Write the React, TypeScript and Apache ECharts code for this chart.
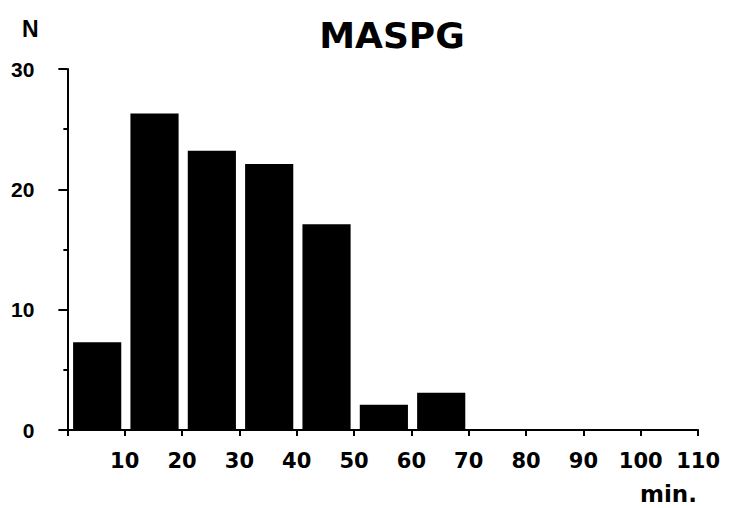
import React, { useEffect, useRef } from "react";
import * as echarts from "echarts";

const binStarts = [0, 10, 20, 30, 40, 50, 60];
const counts = [7.3, 26.3, 23.2, 22.1, 17.1, 2.1, 3.1];
const xTicks = [0, 10, 20, 30, 40, 50, 60, 70, 80, 90, 100, 110];
const yTicks = [0, 10, 20, 30];
const titleText = "MASPG";
const yName = "N";
const xName = "min.";

const ARIAL = "'Liberation Sans', Arial, Helvetica, sans-serif";
const DEJAVU = "'DejaVu Sans', sans-serif";

export default function App() {
  const ref = useRef<HTMLDivElement>(null);
  useEffect(() => {
    if (!ref.current) return;
    const chart = echarts.init(ref.current, undefined, { renderer: "svg" });
    const data = binStarts.map((s, i) => [s + 1.0, s + 9.4, counts[i]]);
    chart.setOption({
      animation: false,
      backgroundColor: "#fff",
      graphic: [
        {
          type: "text",
          x: 384,
          y: 9,
          style: {
            text: titleText,
            font: `bold 36px ${DEJAVU}`,
            fill: "#000",
            textAlign: "center",
            textVerticalAlign: "top",
          },
        },
        {
          type: "text",
          x: 14,
          y: 9,
          style: { text: yName, font: `bold 23px ${ARIAL}`, fill: "#000", textVerticalAlign: "top" },
        },
        {
          type: "text",
          x: 632,
          y: 474,
          style: { text: xName, font: `bold 23px ${DEJAVU}`, fill: "#000", textVerticalAlign: "top" },
        },
      ],
      grid: { left: 54, right: 24, top: 61, bottom: 78, containLabel: false },
      xAxis: {
        type: "value",
        min: xTicks[0],
        max: xTicks[xTicks.length - 1],
        interval: 10,
        splitLine: { show: false },
        axisLine: { show: true, lineStyle: { color: "#000", width: 2 } },
        axisTick: { show: true, length: 6, lineStyle: { color: "#000", width: 2 } },
        axisLabel: {
          margin: 20,
          color: "#000",
          fontFamily: DEJAVU,
          fontWeight: "bold",
          fontSize: 21,
          formatter: (v: number) => (v === 0 ? "" : String(v)),
        },
      },
      yAxis: {
        type: "value",
        min: yTicks[0],
        max: yTicks[yTicks.length - 1],
        interval: 10,
        splitLine: { show: false },
        axisLine: { show: true, lineStyle: { color: "#000", width: 2 } },
        axisTick: { show: true, length: 9, lineStyle: { color: "#000", width: 2 } },
        minorTick: { show: true, splitNumber: 2, length: 4, lineStyle: { color: "#000", width: 2 } },
        axisLabel: {
          margin: 33,
          color: "#000",
          fontFamily: ARIAL,
          fontWeight: "bold",
          fontSize: 21,
        },
      },
      series: [
        {
          type: "custom",
          data,
          encode: { x: [0, 1], y: 2 },
          renderItem: (params: any, api: any) => {
            const p0 = api.coord([api.value(0), api.value(2)]);
            const p1 = api.coord([api.value(1), 0]);
            return {
              type: "rect",
              shape: { x: p0[0], y: p0[1], width: p1[0] - p0[0], height: p1[1] - p0[1] },
              style: { fill: "#000" },
            };
          },
        },
      ],
    });
    return () => chart.dispose();
  }, []);
  return <div ref={ref} style={{ width: 715, height: 500 }} />;
}
